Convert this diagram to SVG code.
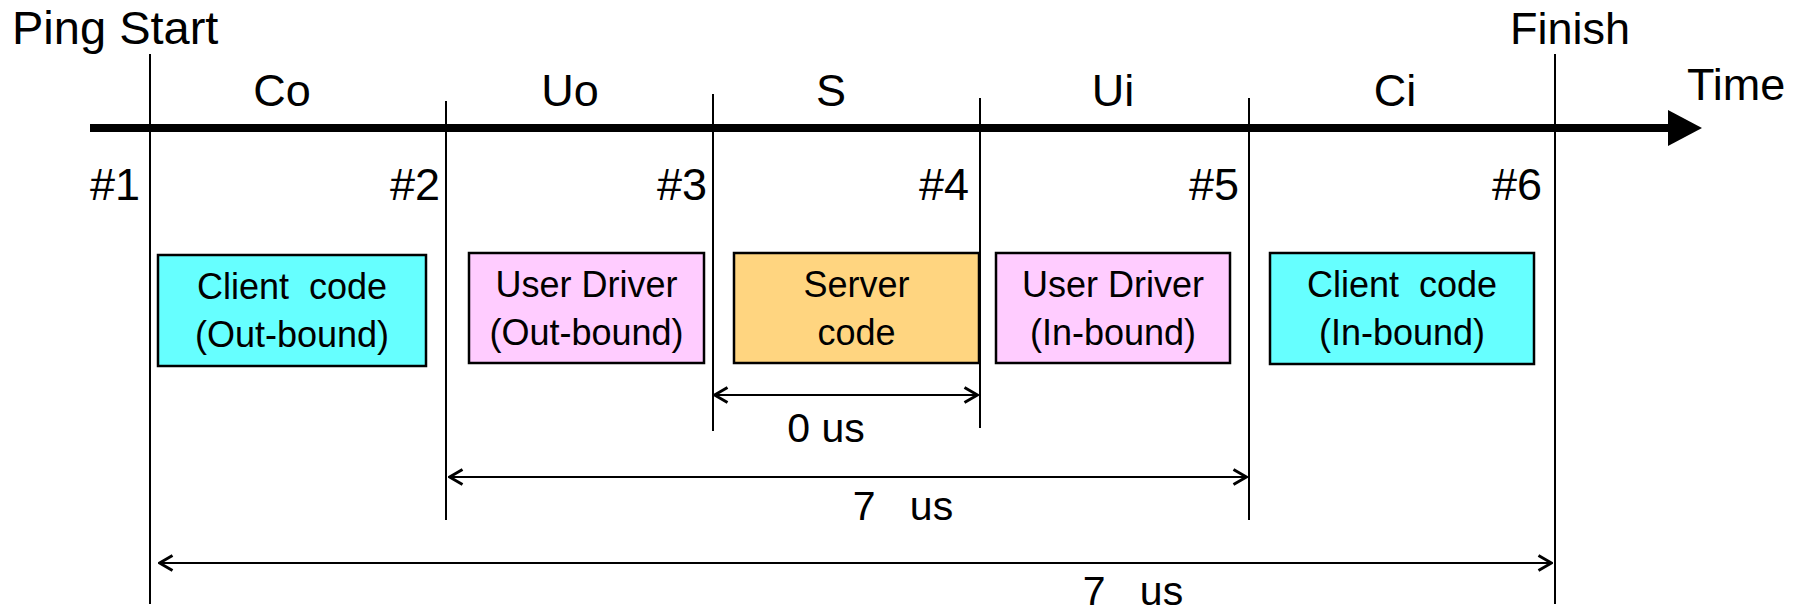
<svg xmlns="http://www.w3.org/2000/svg" width="1803" height="610" viewBox="0 0 1803 610">
<defs>
<style>
text{font-family:"Liberation Sans",Arial,sans-serif;fill:#000}
.big{font-size:45px}
.box{font-size:36px;text-anchor:middle}
.lbl{font-size:41px}
.v{stroke:#000;stroke-width:2;fill:none}
.dim{stroke:#000;stroke-width:2.2;fill:none;marker-start:url(#ah);marker-end:url(#ah)}
.node{stroke:#000;stroke-width:2.5}
</style>
<marker id="ah" viewBox="0 0 16 18" refX="15" refY="9" markerWidth="16" markerHeight="18" markerUnits="userSpaceOnUse" orient="auto-start-reverse">
<path d="M1.5,1.5 L14.5,9 L1.5,16.5" fill="none" stroke="#000" stroke-width="3"/>
</marker>
</defs>
<rect width="1803" height="610" fill="#fff"/>
<g id="timeline">
<line x1="90" y1="128" x2="1672" y2="128" stroke="#000" stroke-width="8"/>
<polygon points="1668,110 1702,128 1668,146" fill="#000"/>
<text class="big" x="1687" y="100">Time</text>
</g>
<g id="markers">
<line class="v" x1="150" y1="54" x2="150" y2="604"/>
<line class="v" x1="446" y1="101" x2="446" y2="520"/>
<line class="v" x1="713" y1="94" x2="713" y2="431"/>
<line class="v" x1="980" y1="98" x2="980" y2="428"/>
<line class="v" x1="1249" y1="98" x2="1249" y2="520"/>
<line class="v" x1="1555" y1="54" x2="1555" y2="604"/>
<text x="12" y="44" style="font-size:47px">Ping Start</text>
<text class="big" x="1510" y="44">Finish</text>
<text class="big" x="90" y="200">#1</text>
<text class="big" x="440" y="200" text-anchor="end">#2</text>
<text class="big" x="707" y="200" text-anchor="end">#3</text>
<text class="big" x="969" y="200" text-anchor="end">#4</text>
<text class="big" x="1239" y="200" text-anchor="end">#5</text>
<text class="big" x="1542" y="200" text-anchor="end">#6</text>
<text class="big" x="282" y="106" text-anchor="middle">Co</text>
<text class="big" x="570" y="106" text-anchor="middle">Uo</text>
<text class="big" x="831" y="106" text-anchor="middle">S</text>
<text class="big" x="1113" y="106" text-anchor="middle">Ui</text>
<text class="big" x="1395" y="106" text-anchor="middle">Ci</text>
</g>
<g id="client-out">
<rect class="node" x="158" y="255" width="268" height="111" fill="#66FFFF"/>
<text class="box" x="292" y="299" xml:space="preserve">Client  code</text>
<text class="box" x="292" y="347">(Out-bound)</text>
</g>
<g id="driver-out">
<rect class="node" x="469" y="253" width="235" height="110" fill="#FFCCFF"/>
<text class="box" x="586.5" y="297">User Driver</text>
<text class="box" x="586.5" y="345">(Out-bound)</text>
</g>
<g id="server">
<rect class="node" x="734" y="253" width="245" height="110" fill="#FFD580"/>
<text class="box" x="856.5" y="297">Server</text>
<text class="box" x="856.5" y="345">code</text>
</g>
<g id="driver-in">
<rect class="node" x="996" y="253" width="234" height="110" fill="#FFCCFF"/>
<text class="box" x="1113" y="297">User Driver</text>
<text class="box" x="1113" y="345">(In-bound)</text>
</g>
<g id="client-in">
<rect class="node" x="1270" y="253" width="264" height="111" fill="#66FFFF"/>
<text class="box" x="1402" y="297" xml:space="preserve">Client  code</text>
<text class="box" x="1402" y="345">(In-bound)</text>
</g>
<g id="connectors">
<line class="dim" x1="714" y1="395" x2="978" y2="395"/>
<line class="dim" x1="449" y1="477" x2="1247" y2="477"/>
<line class="dim" x1="159" y1="563" x2="1552" y2="563"/>
</g>
<g id="dim-labels">
<text class="lbl" x="826" y="442" text-anchor="middle">0 us</text>
<text class="lbl" x="903" y="520" text-anchor="middle" xml:space="preserve">7   us</text>
<text class="lbl" x="1133" y="605" text-anchor="middle" xml:space="preserve">7   us</text>
</g>
</svg>
